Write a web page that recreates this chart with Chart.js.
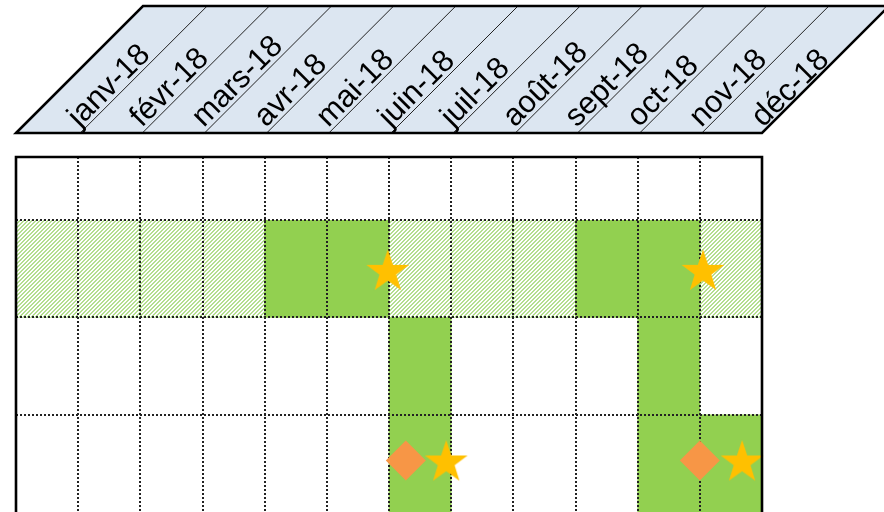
<!DOCTYPE html>
<html>
<head>
<meta charset="utf-8">
<script src="https://cdn.jsdelivr.net/npm/chart.js@4.4.1/dist/chart.umd.min.js"></script>
<style>
    html, body { margin: 0; padding: 0; background: #ffffff; }
</style>
</head>
<body>
<canvas id="planChart" width="884" height="512"></canvas>
<script>
const months = ['janv-18', 'févr-18', 'mars-18', 'avr-18', 'mai-18', 'juin-18',
    'juil-18', 'août-18', 'sept-18', 'oct-18', 'nov-18', 'déc-18'];

// one code per month: 0 = empty, 1 = full, 2 = hatched
const rowOne = [2, 2, 2, 2, 1, 1, 2, 2, 2, 1, 1, 2];
const rowTwo = [0, 0, 0, 0, 0, 0, 1, 0, 0, 0, 1, 0];
const rowThree = [0, 0, 0, 0, 0, 0, 1, 0, 0, 0, 1, 1];
const rowCenters = [2.5, 1.5, 0.5];
const rowTicks = [1, 2, 3];
const yTop = 3.65;

const starX = [5.98, 11.05, 6.92, 11.68];
const starY = [2.49, 2.49, 0.53, 0.53];
const diamondX = [6.27, 11.0];
const diamondY = [0.53, 0.53];

const rows = [rowOne, rowTwo, rowThree];

function cellsOf(code) {
    const out = [];
    rows.forEach((row, r) => {
        row.forEach((v, c) => {
            if (v === code) out.push({x: [c, c + 1], y: rowCenters[r]});
        });
    });
    return out;
}

const canvas = document.getElementById('planChart');
const ctx = canvas.getContext('2d');

// small tile with a crisp "/" stripe, 2px green + 2px white
function makeHatch() {
    const tile = document.createElement('canvas');
    tile.width = 4;
    tile.height = 4;
    const g = tile.getContext('2d');
    g.fillStyle = '#ffffff';
    g.fillRect(0, 0, 4, 4);
    g.fillStyle = '#b4de90';
    for (let k = 0; k < 4; k++) {
        g.fillRect(3 - k, k, 1, 1);
        g.fillRect((4 - k) % 4, k, 1, 1);
    }
    return ctx.createPattern(tile, 'repeat');
}

function makeStar() {
    const img = document.createElement('canvas');
    img.width = 48;
    img.height = 48;
    const g = img.getContext('2d');
    const outer = 22.5, inner = 8.8;
    g.fillStyle = '#FFC000';
    g.beginPath();
    for (let k = 0; k < 10; k++) {
        const r = k % 2 === 0 ? outer : inner;
        const a = -Math.PI / 2 + k * Math.PI / 5;
        const px = 24 + r * Math.cos(a);
        const py = 26 + r * Math.sin(a);
        if (k === 0) g.moveTo(px, py); else g.lineTo(px, py);
    }
    g.closePath();
    g.fill();
    return img;
}

// grid goes over the bars but under the markers
const gridPlugin = {
    id: 'gridBetween',
    beforeDatasetsDraw(chart) {
        chart.$gridDone = false;
    },
    beforeDatasetDraw(chart, args) {
        if (args.meta.type === 'scatter' && !chart.$gridDone) {
            chart.scales.x.drawGrid(chart.chartArea);
            chart.scales.y.drawGrid(chart.chartArea);
            chart.$gridDone = true;
        }
    }
};

const headerPlugin = {
    id: 'monthHeader',
    afterDraw(chart) {
        const c = chart.ctx;
        const area = chart.chartArea;
        const xs = chart.scales.x;
        const bottom = area.top - 24;
        const top = 6;
        const slant = bottom - top;
        const x0 = xs.getPixelForValue(0);
        const x1 = xs.getPixelForValue(months.length);

        c.save();
        c.beginPath();
        c.moveTo(x0, bottom);
        c.lineTo(x0 + slant, top);
        c.lineTo(x1 + slant, top);
        c.lineTo(x1, bottom);
        c.closePath();
        c.fillStyle = '#DCE6F1';
        c.fill();

        c.lineWidth = 1;
        c.strokeStyle = '#222';
        for (let i = 1; i < months.length; i++) {
            const bx = xs.getPixelForValue(i) + 2;
            c.beginPath();
            c.moveTo(bx, bottom);
            c.lineTo(bx + slant, top);
            c.stroke();
        }

        c.fillStyle = '#000';
        c.font = '31px "Liberation Sans", Arial, sans-serif';
        c.textAlign = 'left';
        c.textBaseline = 'alphabetic';
        const along = 3, off = 4;
        months.forEach((m, i) => {
            const bx = xs.getPixelForValue(i + 1) + 2;
            c.save();
            c.translate(bx + (along - off) / Math.SQRT2, bottom - (along + off) / Math.SQRT2);
            c.rotate(-Math.PI / 4);
            c.fillText(m, 0, 0);
            c.restore();
        });

        c.beginPath();
        c.moveTo(x0, bottom);
        c.lineTo(x0 + slant, top);
        c.lineTo(x1 + slant, top);
        c.lineTo(x1, bottom);
        c.closePath();
        c.lineWidth = 2.5;
        c.strokeStyle = '#000';
        c.stroke();

        // frame of the plan
        c.beginPath();
        c.moveTo(area.left, area.bottom + 5);
        c.lineTo(area.left, area.top);
        c.lineTo(area.right, area.top);
        c.lineTo(area.right, area.bottom + 5);
        c.lineWidth = 2.6;
        c.stroke();
        c.restore();
    }
};

const gridOpts = {color: '#222', lineWidth: 2, offset: false, drawTicks: false};
const borderOpts = {display: false, dash: [2, 2]};

new Chart(ctx, {
    type: 'bar',
    data: {
        datasets: [
            {
                type: 'bar',
                indexAxis: 'y',
                data: cellsOf(1),
                backgroundColor: '#92D050',
                borderWidth: 0,
                borderSkipped: false,
                barPercentage: 1,
                categoryPercentage: 1,
                grouped: false,
                order: 2
            },
            {
                type: 'bar',
                indexAxis: 'y',
                data: cellsOf(2),
                backgroundColor: makeHatch(),
                borderWidth: 0,
                borderSkipped: false,
                barPercentage: 1,
                categoryPercentage: 1,
                grouped: false,
                order: 2
            },
            {
                type: 'scatter',
                data: diamondX.map((x, i) => ({x: x, y: diamondY[i]})),
                pointStyle: 'rectRot',
                pointRadius: 20,
                backgroundColor: '#F79646',
                borderWidth: 0,
                clip: false,
                order: 1
            },
            {
                type: 'scatter',
                data: starX.map((x, i) => ({x: x, y: starY[i]})),
                pointStyle: makeStar(),
                pointRadius: 22,
                clip: false,
                order: 0
            }
        ]
    },
    options: {
        responsive: false,
        animation: false,
        layout: {autoPadding: false, padding: {left: 16, right: 122, top: 157, bottom: 0}},
        plugins: {
            legend: {display: false},
            tooltip: {enabled: false}
        },
        scales: {
            x: {
                type: 'linear',
                display: false,
                offset: false,
                min: 0,
                max: months.length,
                ticks: {stepSize: 1},
                grid: gridOpts,
                border: borderOpts
            },
            y: {
                type: 'linear',
                display: false,
                offset: false,
                min: 0,
                max: yTop,
                afterBuildTicks: scale => {
                    scale.ticks = rowTicks.map(v => ({value: v}));
                },
                grid: gridOpts,
                border: borderOpts
            }
        }
    },
    plugins: [gridPlugin, headerPlugin]
});
</script>
</body>
</html>
